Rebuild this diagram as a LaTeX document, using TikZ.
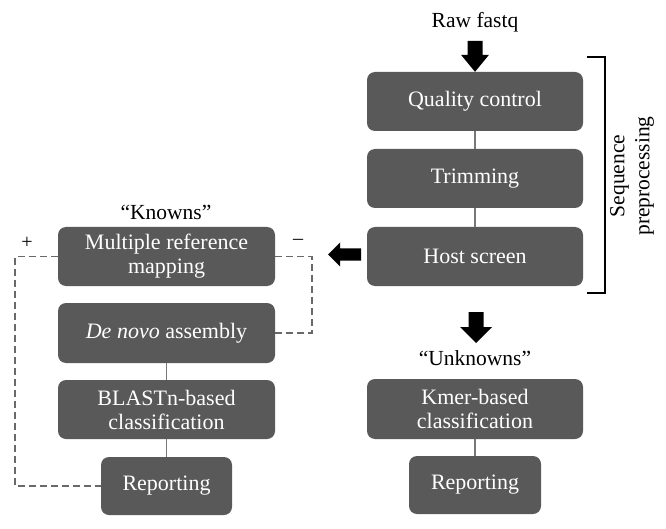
\documentclass[tikz,border=0pt]{standalone}
\usepackage{fontspec}
\setmainfont{Liberation Serif}
\usetikzlibrary{calc}
\definecolor{boxgray}{RGB}{89,89,89}
\definecolor{linegray}{RGB}{120,120,120}
\definecolor{dashgray}{RGB}{105,105,105}
\begin{document}
\begin{tikzpicture}[x=1pt,y=-1pt,
  stepbox/.style={fill=boxgray,rounded corners=8pt,text=white,font=\fontsize{22}{24}\selectfont,align=center,inner sep=0pt},
  label/.style={font=\fontsize{21.5}{23}\selectfont,inner sep=0pt},
  conn/.style={draw=linegray,line width=1.2pt},
  loop/.style={draw=dashgray,line width=1.3pt,dash pattern=on 7pt off 4pt},
  blockarrow/.style={fill=black}]
\useasboundingbox (0,0) rectangle (666,529);
% right column
\node[stepbox,minimum width=216pt,minimum height=59pt] (qc) at (475,101.5) {Quality control};
\node[stepbox,minimum width=216pt,minimum height=59pt] (trim) at (475,178.5) {Trimming};
\node[stepbox,minimum width=216pt,minimum height=59pt] (host) at (475,256.5) {Host screen};
\node[stepbox,minimum width=216pt,minimum height=60pt] (kmer) at (475,409) {Kmer-based\\classification};
\node[stepbox,minimum width=132pt,minimum height=58pt] (rep2) at (475,485) {Reporting};
% left column
\node[stepbox,minimum width=217pt,minimum height=59pt] (mrm) at (166.5,256.5) {Multiple reference\\mapping};
\node[stepbox,minimum width=217pt,minimum height=60pt] (dn) at (166.5,333) {\textit{De novo} assembly};
\node[stepbox,minimum width=217pt,minimum height=59pt] (blast) at (166.5,409.5) {BLASTn-based\\classification};
\node[stepbox,minimum width=131pt,minimum height=58pt] (rep1) at (166.5,486) {Reporting};
% labels
\node[label] (raw) at (475,22) {Raw fastq};
\node[label] (known) at (166,212) {``Knowns''};
\node[label] (unknown) at (475,358) {``Unknowns''};
\node[label,rotate=90,align=center,font=\fontsize{21.5}{25}\selectfont] (seq) at (632,176) {Sequence\\preprocessing};
\node[font=\fontsize{20}{20}\selectfont,inner sep=0pt] (plus) at (27,243) {+};
\node[font=\fontsize{20}{20}\selectfont,inner sep=0pt] (minus) at (298,242) {\textendash};
% connectors
\draw[conn] (qc) -- (trim);
\draw[conn] (trim) -- (host);
\draw[conn] (kmer) -- (rep2);
\draw[conn] (dn) -- (blast);
\draw[conn] (blast) -- (rep1);
% dashed loops
\coordinate (lt) at (15,256.5);
\coordinate (rt) at (312,256.5);
\draw[loop] (mrm.west) -- (lt) |- (rep1.west);
\draw[loop] (mrm.east) -- (rt) |- (dn.east);
% bracket
\coordinate (bt) at (605,57);
\coordinate (bb) at (605,293);
\draw[line width=1.2pt] ($(bt)+(-18,0)$) -- (bt) -- (bb) -- ($(bb)+(-18,0)$);
% block arrows
\fill[blockarrow] ($(qc.north)+(-7.5,-31)$) -- ++(15,0) -- ++(0,14) -- ++(6.5,0) -- (qc.north) -- ++(-14,-17) -- ++(6.5,0) -- cycle;
\coordinate (ua) at (476,343);
\fill[blockarrow] ($(ua)+(-7.5,-31)$) -- ++(15,0) -- ++(0,15) -- ++(8.5,0) -- (ua) -- ++(-16,-16) -- ++(8.5,0) -- cycle;
\coordinate (la) at (328,254.5);
\fill[blockarrow] (la) -- ++(12,-12) -- ++(0,6) -- ++(21,0) -- ++(0,12) -- ++(-21,0) -- ++(0,6) -- cycle;
\end{tikzpicture}
\end{document}
